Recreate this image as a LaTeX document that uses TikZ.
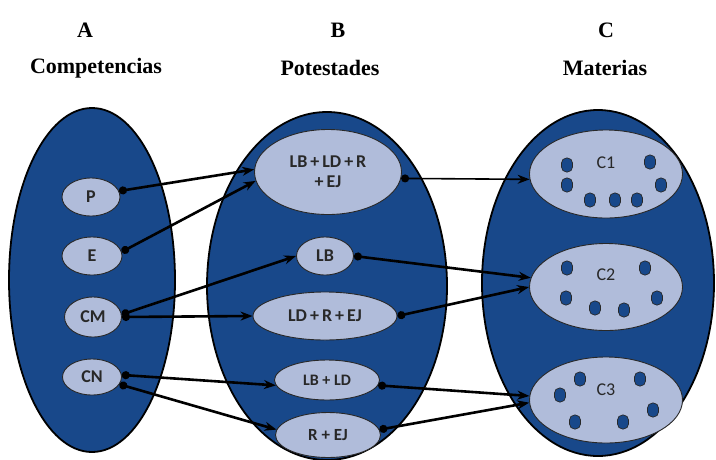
\documentclass[tikz,border=0pt]{standalone}
\usepackage{fontspec}
\setmainfont{Liberation Serif}
\newfontfamily\labelfont{Carlito}
\usetikzlibrary{arrows.meta,positioning,shapes.geometric}
\definecolor{deepblue}{RGB}{24,72,138}
\definecolor{paleblue}{RGB}{176,188,218}
\definecolor{inkgray}{RGB}{40,40,40}

\begin{document}
\begin{tikzpicture}[x=1pt,y=-1pt,
  big/.style={ellipse,draw=black,line width=1.8pt,fill=deepblue,inner sep=0pt},
  item/.style={ellipse,draw=inkgray,line width=0.9pt,fill=paleblue,inner sep=0pt,text=inkgray,align=center,font=\labelfont\bfseries\fontsize{18}{20}\selectfont},
  grain/.style={draw=inkgray,line width=0.7pt,fill=deepblue,rounded corners=5pt,minimum width=11pt,minimum height=14pt,inner sep=0pt},
  link/.style={line width=2.6pt,{Circle[length=8pt]}-{Stealth[length=12pt,width=9pt]}},
  head/.style={font=\bfseries\fontsize{22}{24}\selectfont}]
\useasboundingbox[fill=white] (0,0) rectangle (716,459);
\node[head] (hA) at (85,30) {A};
\node[head] (hB) at (338,30) {B};
\node[head] (hC) at (606,30) {C};
\node[head] (tA) at (96,68) {Competencias};
\node[head] (tB) at (330,68) {Potestades};
\node[head] (tC) at (605,68) {Materias};
\node[big,minimum width=166,minimum height=344] (A) at (92,280) {};
\node[big,minimum width=240,minimum height=348] (B) at (327,286) {};
\node[big,minimum width=232,minimum height=346] (C) at (598,283) {};
\node[item,minimum width=58,minimum height=38] (P) at (91,197) {P};
\node[item,minimum width=60,minimum height=38] (E) at (92,256) {E};
\node[item,minimum width=57,minimum height=40] (CM) at (93,317) {CM};
\node[item,minimum width=59,minimum height=36] (CN) at (92,377) {CN};
\node[item,minimum width=147,minimum height=85] (LBLDREJ) at (328,172) {LB\,+\,LD\,+\,R\\+\,EJ};
\node[item,minimum width=57,minimum height=38] (LB) at (325,256) {LB};
\node[item,minimum width=144,minimum height=48] (LDREJ) at (325,316) {LD\,+\,R\,+\,EJ};
\node[item,minimum width=105,minimum height=40,font=\labelfont\bfseries\fontsize{16}{18}\selectfont] (LBLD) at (327,380) {LB + LD};
\node[item,minimum width=105,minimum height=45,font=\labelfont\bfseries\fontsize{17}{18}\selectfont] (REJ) at (328,435) {R + EJ};
\node[item,minimum width=153,minimum height=88,label={[yshift=11pt,text=inkgray,font=\labelfont\fontsize{18}{20}\selectfont]center:C1}] (C1) at (606,174) {};
\node[item,minimum width=153,minimum height=87,label={[yshift=12pt,text=inkgray,font=\labelfont\fontsize{18}{20}\selectfont]center:C2}] (C2) at (606,287) {};
\node[item,minimum width=153,minimum height=86,label={[yshift=10pt,text=inkgray,font=\labelfont\fontsize{18}{20}\selectfont]center:C3}] (C3) at (606,400) {};
\foreach \gx/\gy in {567/165,650/162,567/185,661/185,590/200,615/200,637/200,
                     567/268,645/268,566/298,657/298,595/308,624/310,
                     580/379,640/379,560/395,653/410,575/422,623/422}
  \node[grain] (g-\gx-\gy) at (\gx,\gy) {};
\draw[link] (P.12) -- (LBLDREJ.178);
\draw[link] (E.8) -- (LBLDREJ.187);
\draw[link] (CM.5) -- (LB.west);
\draw[link] (CM.east) -- (LDREJ.west);
\draw[link] (CN.4) -- (LBLD.186);
\draw[link] (CN.-15) -- (REJ.174);
\draw[link,line width=1.6pt] (LBLDREJ.355) -- (C1.184);
\draw[link] (LB.east) -- (C2.173);
\draw[link] (LDREJ.east) -- (C2.180);
\draw[link] (LBLD.354) -- (C3.177);
\draw[link] (REJ.6) -- (C3.182);
\end{tikzpicture}
\end{document}
